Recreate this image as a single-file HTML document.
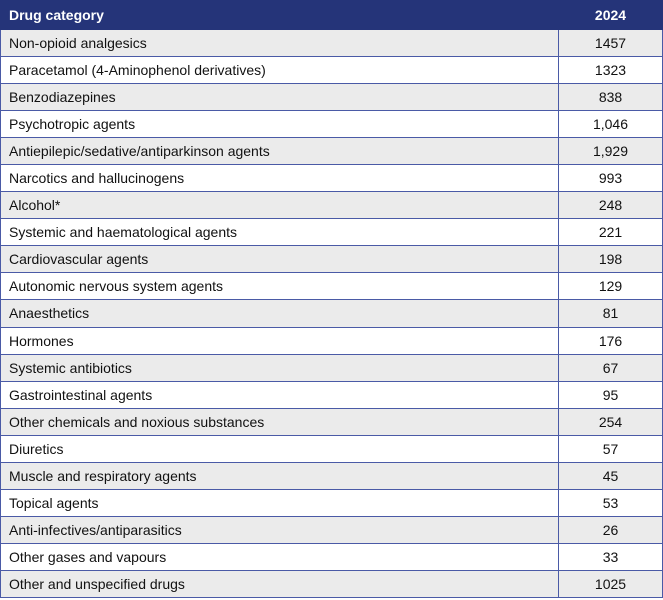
<!DOCTYPE html>
<html><head><style>
body{margin:0;width:663px;height:600px;background:#fff;font-family:"Liberation Sans",sans-serif;}
table{position:absolute;left:0;top:0;width:662px;border-collapse:collapse;table-layout:fixed;}
td,th{border:1px solid #4a5aa6;height:27.1px;padding:0 0 0 8px;font-size:14px;color:#111;box-sizing:border-box;}
th{background:#253479;color:#fff;text-align:left;font-weight:bold;height:28.5px;border-color:#253479;}
td.n,th.n{text-align:center;padding:0;}
tr:nth-child(even) td{background:#ebebeb;}
</style></head><body>
<table>
<colgroup><col style="width:558px"><col style="width:104px"></colgroup>
<tr><th>Drug category</th><th class="n">2024</th></tr>
<tr><td>Non-opioid analgesics</td><td class="n">1457</td></tr>
<tr><td>Paracetamol (4-Aminophenol derivatives)</td><td class="n">1323</td></tr>
<tr><td>Benzodiazepines</td><td class="n">838</td></tr>
<tr><td>Psychotropic agents</td><td class="n">1,046</td></tr>
<tr><td>Antiepilepic/sedative/antiparkinson agents</td><td class="n">1,929</td></tr>
<tr><td>Narcotics and hallucinogens</td><td class="n">993</td></tr>
<tr><td>Alcohol*</td><td class="n">248</td></tr>
<tr><td>Systemic and haematological agents</td><td class="n">221</td></tr>
<tr><td>Cardiovascular agents</td><td class="n">198</td></tr>
<tr><td>Autonomic nervous system agents</td><td class="n">129</td></tr>
<tr><td>Anaesthetics</td><td class="n">81</td></tr>
<tr><td>Hormones</td><td class="n">176</td></tr>
<tr><td>Systemic antibiotics</td><td class="n">67</td></tr>
<tr><td>Gastrointestinal agents</td><td class="n">95</td></tr>
<tr><td>Other chemicals and noxious substances</td><td class="n">254</td></tr>
<tr><td>Diuretics</td><td class="n">57</td></tr>
<tr><td>Muscle and respiratory agents</td><td class="n">45</td></tr>
<tr><td>Topical agents</td><td class="n">53</td></tr>
<tr><td>Anti-infectives/antiparasitics</td><td class="n">26</td></tr>
<tr><td>Other gases and vapours</td><td class="n">33</td></tr>
<tr><td>Other and unspecified drugs</td><td class="n">1025</td></tr>
</table>
</body></html>
